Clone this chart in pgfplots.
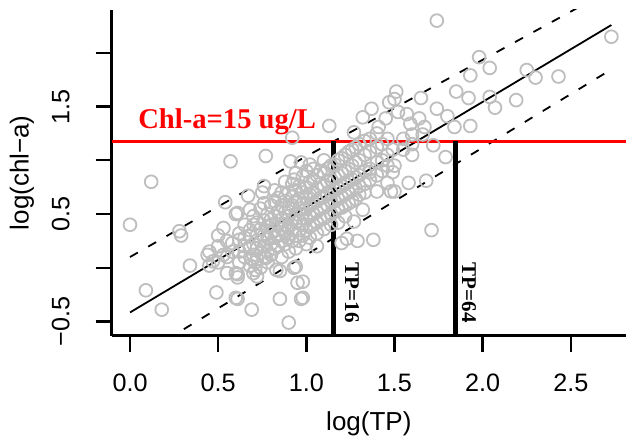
\documentclass[border=0pt]{standalone}
\usepackage{fontspec}
\setmainfont{Liberation Sans}
\newfontfamily\serifb{Liberation Serif}
\usepackage{pgfplots}
\pgfplotsset{compat=1.18}
\definecolor{ptgray}{RGB}{190,190,190}

\pgfplotstableread{
x y
0.00 0.40
0.12 0.80
0.09 -0.21
0.18 -0.39
0.28 0.34
0.29 0.30
0.34 0.02
0.44 0.12
0.47 0.06
0.49 -0.23
0.61 -0.29
0.69 -0.39
0.85 -0.29
0.90 -0.51
0.97 -0.29
0.93 0.00
0.95 -0.14
0.61 -0.06
0.61 -0.09
0.71 0.05
0.71 -0.02
0.72 -0.08
0.83 -0.02
0.58 0.23
0.62 0.26
0.53 0.37
0.60 0.50
0.68 0.54
0.57 0.99
0.54 0.61
0.53 0.12
0.60 -0.05
0.60 -0.28
0.85 -0.03
0.94 0.01
0.77 0.09
0.69 0.08
0.92 1.21
0.77 1.04
0.91 0.99
0.97 0.98
1.02 0.96
0.76 0.76
0.75 0.70
0.67 0.67
0.61 0.51
0.93 0.82
1.13 1.32
1.32 1.40
1.37 1.48
1.47 1.54
1.51 1.64
1.45 1.39
1.41 1.31
1.27 1.26
1.52 1.45
1.74 2.30
1.98 1.96
2.04 1.86
1.93 1.79
2.25 1.84
2.30 1.77
2.43 1.78
2.73 2.15
2.04 1.59
2.07 1.49
2.19 1.56
1.85 1.64
1.92 1.58
1.65 1.58
1.74 1.48
1.80 1.41
1.84 1.31
1.93 1.32
1.50 1.57
1.57 1.43
1.64 1.39
1.67 1.31
1.60 1.24
1.72 1.14
1.79 1.03
1.49 1.10
1.50 0.95
1.49 0.89
1.58 0.79
1.68 0.81
1.50 0.71
1.59 1.34
1.66 1.24
1.71 0.35
1.38 0.26
1.29 0.25
1.23 0.27
1.20 0.23
1.32 0.54
1.27 0.43
1.48 0.71
1.40 0.71
1.46 0.79
1.36 0.89
0.98 -0.28
0.98 -0.13
1.06 0.20
}\sparse

\pgfplotstableread{
x y
0.45 0.15
0.45 0.02
0.50 0.20
0.50 0.05
0.50 0.30
0.55 0.10
0.55 0.25
0.55 -0.05
0.58 0.15
0.62 0.15
0.62 0.32
0.62 0.05
0.65 0.10
0.65 0.28
0.65 0.40
0.65 0.20
0.68 0.18
0.68 0.35
0.68 0.02
0.68 0.30
0.70 0.22
0.70 0.40
0.70 0.12
0.70 0.48
0.70 -0.05
0.72 0.30
0.72 0.18
0.72 0.42
0.72 0.08
0.74 0.25
0.74 0.36
0.74 0.55
0.74 0.14
0.74 0.00
0.76 0.30
0.76 0.44
0.76 0.20
0.76 0.60
0.76 0.10
0.78 0.38
0.78 0.28
0.78 0.50
0.78 0.15
0.78 0.05
0.80 0.32
0.80 0.45
0.80 0.22
0.80 0.58
0.80 0.40
0.80 0.12
0.82 0.35
0.82 0.48
0.82 0.28
0.82 0.62
0.82 0.18
0.82 0.72
0.84 0.40
0.84 0.52
0.84 0.30
0.84 0.20
0.84 0.65
0.86 0.45
0.86 0.36
0.86 0.58
0.86 0.25
0.86 0.70
0.86 0.10
0.88 0.40
0.88 0.52
0.88 0.32
0.88 0.62
0.88 0.22
0.88 0.80
0.90 0.48
0.90 0.38
0.90 0.56
0.90 0.28
0.90 0.70
0.90 0.15
0.92 0.45
0.92 0.58
0.92 0.35
0.92 0.66
0.92 0.25
0.92 0.78
0.94 0.50
0.94 0.42
0.94 0.62
0.94 0.30
0.94 0.72
0.94 0.18
0.94 0.88
0.96 0.55
0.96 0.44
0.96 0.64
0.96 0.35
0.96 0.76
0.96 0.25
0.98 0.50
0.98 0.60
0.98 0.40
0.98 0.70
0.98 0.30
0.98 0.85
1.00 0.55
1.00 0.65
1.00 0.45
1.00 0.75
1.00 0.35
1.00 0.90
1.00 0.22
1.02 0.58
1.02 0.48
1.02 0.68
1.02 0.38
1.02 0.80
1.02 0.28
1.04 0.60
1.04 0.70
1.04 0.50
1.04 0.82
1.04 0.40
1.04 0.92
1.06 0.62
1.06 0.52
1.06 0.74
1.06 0.42
1.06 0.86
1.06 0.32
1.08 0.65
1.08 0.55
1.08 0.78
1.08 0.45
1.08 0.90
1.10 0.66
1.10 0.56
1.10 0.76
1.10 0.46
1.10 0.88
1.10 0.36
1.10 1.00
1.12 0.68
1.12 0.58
1.12 0.80
1.12 0.48
1.12 0.92
1.14 0.70
1.14 0.62
1.14 0.82
1.14 0.50
1.14 0.95
1.14 0.40
1.16 0.72
1.16 0.62
1.16 0.84
1.16 0.52
1.16 0.96
1.18 0.74
1.18 0.64
1.18 0.86
1.18 0.55
1.18 1.00
1.18 0.42
1.20 0.76
1.20 0.66
1.20 0.88
1.20 0.56
1.20 1.02
1.22 0.78
1.22 0.68
1.22 0.90
1.22 0.58
1.22 1.05
1.22 0.48
1.24 0.80
1.24 0.70
1.24 0.92
1.24 0.60
1.24 1.08
1.26 0.82
1.26 0.72
1.26 0.95
1.26 0.62
1.26 1.10
1.28 0.84
1.28 0.74
1.28 0.98
1.28 0.64
1.28 1.12
1.30 0.86
1.30 0.76
1.30 1.00
1.30 0.68
1.30 1.15
1.33 0.90
1.33 0.78
1.33 1.05
1.33 0.70
1.33 1.18
1.36 0.92
1.36 0.82
1.36 1.08
1.36 1.20
1.40 0.98
1.40 0.86
1.40 1.12
1.40 1.25
1.43 1.00
1.43 0.90
1.43 1.15
1.46 1.05
1.46 0.95
1.46 1.20
1.55 1.10
1.55 1.20
1.60 1.15
1.60 1.05
}\dense

\begin{document}
\begin{tikzpicture}
\begin{axis}[
    name=ax,
    scale only axis,
    width=257.2pt, height=162.8pt,
    xmin=-0.104, xmax=2.813, ymin=-0.631, ymax=2.399,
    axis lines=left,
    axis line style={-, line width=1.2pt},
    tick align=outside,
    major tick length=8pt,
    tick style={line width=1.2pt, black},
    xtick={0,0.5,1,1.5,2,2.5},
    xticklabels={0.0,0.5,1.0,1.5,2.0,2.5},
    ytick={-0.5,0,0.5,1,1.5,2},
    yticklabels={−0.5,,0.5,,1.5,},
    ticklabel style={font=\fontsize{12.6}{15}\selectfont},
    xticklabel style={anchor=north, yshift=-7.8pt},
    yticklabel style={xshift=-9.5pt, rotate=90, anchor=south},
    xlabel={log(TP)},
    ylabel={log(chl−a)},
    label style={font=\fontsize{13}{15}\selectfont},
    xlabel style={at={(axis description cs:0.5,-0.2715)}, anchor=center},
    ylabel style={at={(axis description cs:-0.1744,0.5)}, anchor=center},
  ]
  \addplot[only marks, mark=o, mark size=3.2pt, color=ptgray, line width=0.9pt] table {\sparse};
  \addplot[only marks, mark=o, mark size=3.2pt, color=ptgray, line width=0.9pt] table {\dense};
  % fitted line and bands
  \addplot[black, line width=0.9pt] coordinates {(0,-0.416) (2.73,2.259)};
  \addplot[black, line width=0.9pt, dash pattern=on 4.5pt off 6pt] coordinates {(0,0.10) (0.97,1.01) (2.74,2.60)};
  \addplot[black, line width=0.9pt, dash pattern=on 4.5pt off 6pt] coordinates {(0,-0.876) (2.72,1.836)};
  % threshold lines
  \addplot[red, line width=1.5pt] coordinates {(-0.104,1.176) (2.813,1.176)};
  \addplot[black, line width=2.2pt] coordinates {(1.153,-0.631) (1.153,1.176)};
  \addplot[black, line width=2.2pt] coordinates {(1.847,-0.631) (1.847,1.176)};
  \node[font=\serifb\bfseries\fontsize{14.3}{16}\selectfont, text=red, anchor=base west, inner sep=0pt] at (axis cs:0.045,1.292) {Chl-a=15 ug/L};
  \node[font=\serifb\bfseries\fontsize{10.5}{12}\selectfont, rotate=-90, anchor=base west, inner sep=0pt] at (axis cs:1.2195,0.049) {TP=16};
  \node[font=\serifb\bfseries\fontsize{10.5}{12}\selectfont, rotate=-90, anchor=base west, inner sep=0pt] at (axis cs:1.883,0.049) {TP=64};
\end{axis}
\pgfresetboundingbox
\path[use as bounding box] ([xshift=-55.85pt,yshift=-53.15pt]ax.south west) rectangle ([yshift=5pt]ax.north east);
\end{tikzpicture}
\end{document}
